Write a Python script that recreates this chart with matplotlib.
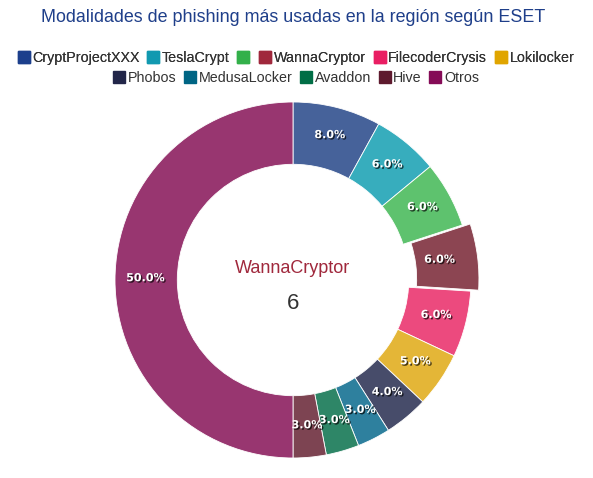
import matplotlib.pyplot as plt
import matplotlib.patheffects as pe
from matplotlib.lines import Line2D
import numpy as np

plt.rcParams['font.family'] = ['Liberation Sans', 'DejaVu Sans']

# data
categories = ['CryptProjectXXX', 'TeslaCrypt', '', 'WannaCryptor', 'FilecoderCrysis', 'Lokilocker',
              'Phobos', 'MedusaLocker', 'Avaddon', 'Hive', 'Otros']
values = [8, 6, 6, 6, 6, 5, 4, 3, 3, 3, 50]
counts = [8, 6, 6, 6, 6, 5, 4, 3, 3, 3, 50]
selected = 'WannaCryptor'

legend_colors = ['#1c3f8c', '#1199b0', '#33b04a', '#a0283c', '#e91e63', '#e0a500',
                 '#222649', '#006584', '#006e46', '#5e1a2e', '#850b57']
slice_colors = ['#46629a', '#37adbd', '#5ec26e', '#8c4552', '#ec4a7e', '#e4b637',
                '#474c6a', '#2e809e', '#2e8667', '#7d4452', '#983670']

W, H = 593, 478
fig = plt.figure(figsize=(W / 100, H / 100), dpi=100)

cx, cy, r = 293, 280, 178
half = r * 1.12
ax = fig.add_axes([(cx - half) / W, (H - cy - half) / H, 2 * half / W, 2 * half / H])

explode = [0.045 if c == selected else 0 for c in categories]
wedges, texts = ax.pie(values, colors=slice_colors, startangle=90, counterclock=False,
                       explode=explode, radius=1,
                       wedgeprops=dict(width=0.35, edgecolor='white', linewidth=0.6))
ax.set_xlim(-1.12, 1.12)
ax.set_ylim(-1.12, 1.12)
ax.set_aspect('equal')
ax.axis('off')

total = sum(values)
angle = 90.0
for i, v in enumerate(values):
    mid = angle - v / total * 360 / 2
    angle -= v / total * 360
    rr = 0.83
    x = rr * np.cos(np.radians(mid))
    y = rr * np.sin(np.radians(mid)) + 0.01
    ax.text(x, y, f'{v / total * 100:.1f}%', ha='center', va='center', color='white',
            fontsize=8, fontweight='bold', family=['DejaVu Sans'],
            path_effects=[pe.withSimplePatchShadow(offset=(1, -1), shadow_rgbFace='black', alpha=0.7)])

sel = categories.index(selected)
ax.text(0, 0.065, selected, ha='center', va='center', color='#a0283c', fontsize=13)
ax.text(0, -0.13, str(counts[sel]), ha='center', va='center', color='#333333', fontsize=16)

fig.text(cx / W, 1 - 18 / H, 'Modalidades de phishing más usadas en la región según ESET',
         ha='center', va='center', color='#1f3f8a', fontsize=12.9)


def handles(idx):
    return [Line2D([], [], marker='s', linestyle='none', markersize=8,
                   markerfacecolor=legend_colors[i], markeredgecolor=legend_colors[i],
                   label=categories[i]) for i in idx]


row1 = list(range(6))
row2 = list(range(6, 11))
opts = dict(loc='center', frameon=False, fontsize=10.3, handlelength=0.7, handletextpad=0.25,
            columnspacing=0.6, borderpad=0)
leg1 = fig.legend(handles=handles(row1), bbox_to_anchor=(0.5, 1 - 58 / H), ncol=6, **opts)
leg2 = fig.legend(handles=handles(row2), bbox_to_anchor=(0.5, 1 - 78 / H), ncol=5, **opts)
for leg in (leg1, leg2):
    for t in leg.get_texts():
        t.set_color('#333333')
fig.add_artist(leg1)

fig.savefig('out.png', dpi=100)
